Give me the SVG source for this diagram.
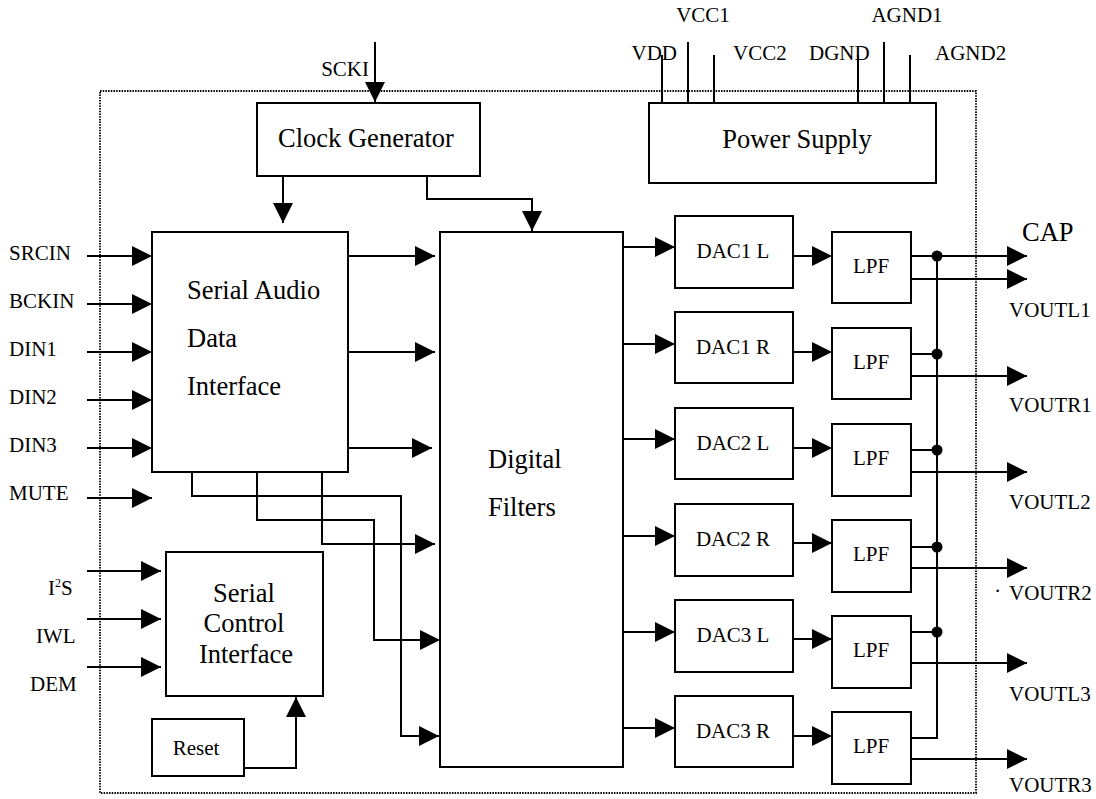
<svg xmlns="http://www.w3.org/2000/svg" width="1096" height="799" viewBox="0 0 1096 799">
<defs>
<marker id="ah" markerUnits="userSpaceOnUse" markerWidth="20" markerHeight="20" refX="20" refY="10" orient="auto" viewBox="0 0 20 20">
<path d="M0,0 L20,10 L0,20 z" fill="#000"/>
</marker>
<style>
.box{fill:#fff;stroke:#000;stroke-width:2}
.w{fill:none;stroke:#000;stroke-width:2}
.a{fill:none;stroke:#000;stroke-width:2;marker-end:url(#ah)}
.big{font-family:"Liberation Serif","Times New Roman",serif;font-size:26.5px;fill:#000}
.sm{font-family:"Liberation Serif","Times New Roman",serif;font-size:21px;fill:#000}
.c{text-anchor:middle}
.dot{fill:#000}
</style>
</defs>
<rect width="1096" height="799" fill="#fff"/>
<rect x="100" y="91" width="876" height="702" fill="none" stroke="#000" stroke-width="1.8" stroke-dasharray="1.5 1.2"/>

<g id="connectors">
<path class="a" d="M375,42 V102"/>
<path class="a" d="M283,176 V223"/>
<path class="a" d="M427,176 V199 H532 V231"/>
<path class="a" d="M87,256 H152"/>
<path class="a" d="M87,304 H152"/>
<path class="a" d="M87,352 H152"/>
<path class="a" d="M87,400 H152"/>
<path class="a" d="M87,448 H152"/>
<path class="a" d="M87,498 H152"/>
<path class="a" d="M348,256 H435"/>
<path class="a" d="M348,352 H435"/>
<path class="a" d="M348,448 H432"/>
<path class="a" d="M192,472 V496 H401 V736 H439"/>
<path class="a" d="M257,472 V520 H374 V640 H440"/>
<path class="a" d="M322,472 V544 H435"/>
<path class="a" d="M87,571 H161"/>
<path class="a" d="M87,619 H161"/>
<path class="a" d="M87,667 H161"/>
<path class="a" d="M244,768 H296 V697"/>
<path class="a" d="M623,247 H675"/>
<path class="a" d="M623,344 H675"/>
<path class="a" d="M623,439 H675"/>
<path class="a" d="M623,536 H675"/>
<path class="a" d="M623,632 H675"/>
<path class="a" d="M623,728 H675"/>
<path class="a" d="M793,256 H832"/>
<path class="a" d="M793,352 H832"/>
<path class="a" d="M793,448 H832"/>
<path class="a" d="M793,543 H832"/>
<path class="a" d="M793,639 H832"/>
<path class="a" d="M793,736 H832"/>
<path class="a" d="M911,256 H1027"/>
<path class="a" d="M911,279 H1027"/>
<path class="a" d="M911,376 H1027"/>
<path class="a" d="M911,472 H1027"/>
<path class="a" d="M911,568 H1027"/>
<path class="a" d="M911,663 H1027"/>
<path class="a" d="M911,759 H1027"/>
<path class="w" d="M911,354 H937 M911,450 H937 M911,547 H937 M911,632 H937 M911,738 H937 V256"/>
<circle class="dot" cx="937" cy="256" r="5.5"/>
<circle class="dot" cx="937" cy="354" r="5.5"/>
<circle class="dot" cx="937" cy="450" r="5.5"/>
<circle class="dot" cx="937" cy="547" r="5.5"/>
<circle class="dot" cx="937" cy="632" r="5.5"/>
<path class="w" d="M662,55 V103 M688,42 V103 M714,55 V103 M858,55 V103 M884,42 V103 M910,55 V103"/>
</g>

<g id="clock">
<rect class="box" x="257" y="103" width="223" height="73"/>
<text class="big c" x="366" y="147">Clock Generator</text>
</g>
<g id="power">
<rect class="box" x="649" y="103" width="287" height="80"/>
<text class="big c" x="797" y="148">Power Supply</text>
</g>
<g id="serial-audio">
<rect class="box" x="152" y="232" width="196" height="240"/>
<text class="big" x="187" y="299">Serial Audio</text>
<text class="big" x="187" y="347">Data</text>
<text class="big" x="187" y="395">Interface</text>
</g>
<g id="digital-filters">
<rect class="box" x="440" y="232" width="183" height="535"/>
<text class="big" x="488" y="468">Digital</text>
<text class="big" x="488" y="516">Filters</text>
</g>
<g id="serial-control">
<rect class="box" x="166" y="552" width="157" height="144"/>
<text class="big c" x="244" y="602">Serial</text>
<text class="big c" x="244" y="632">Control</text>
<text class="big c" x="246" y="663">Interface</text>
</g>
<g id="reset">
<rect class="box" x="152" y="719" width="92" height="57"/>
<text class="sm c" x="196" y="755">Reset</text>
</g>

<g id="dac1l"><rect class="box" x="675" y="216" width="118" height="72"/><text class="sm c" x="733" y="258">DAC1 L</text></g>
<g id="dac1r"><rect class="box" x="675" y="312" width="118" height="71"/><text class="sm c" x="733" y="354">DAC1 R</text></g>
<g id="dac2l"><rect class="box" x="675" y="408" width="118" height="71"/><text class="sm c" x="733" y="450">DAC2 L</text></g>
<g id="dac2r"><rect class="box" x="675" y="504" width="118" height="72"/><text class="sm c" x="733" y="546">DAC2 R</text></g>
<g id="dac3l"><rect class="box" x="675" y="600" width="118" height="72"/><text class="sm c" x="733" y="642">DAC3 L</text></g>
<g id="dac3r"><rect class="box" x="675" y="696" width="118" height="71"/><text class="sm c" x="733" y="738">DAC3 R</text></g>

<g id="lpf1"><rect class="box" x="832" y="232" width="79" height="71"/><text class="sm c" x="871" y="273">LPF</text></g>
<g id="lpf2"><rect class="box" x="832" y="328" width="79" height="71"/><text class="sm c" x="871" y="369">LPF</text></g>
<g id="lpf3"><rect class="box" x="832" y="424" width="79" height="72"/><text class="sm c" x="871" y="465">LPF</text></g>
<g id="lpf4"><rect class="box" x="832" y="520" width="79" height="72"/><text class="sm c" x="871" y="561">LPF</text></g>
<g id="lpf5"><rect class="box" x="832" y="616" width="79" height="72"/><text class="sm c" x="871" y="657">LPF</text></g>
<g id="lpf6"><rect class="box" x="832" y="712" width="79" height="72"/><text class="sm c" x="871" y="753">LPF</text></g>

<g id="labels">
<text class="sm" x="369" y="76" text-anchor="end">SCKI</text>
<text class="sm c" x="703" y="22">VCC1</text>
<text class="sm c" x="907" y="22">AGND1</text>
<text class="sm" x="677" y="60" text-anchor="end">VDD</text>
<text class="sm" x="733" y="60">VCC2</text>
<text class="sm" x="809" y="60">DGND</text>
<text class="sm" x="935" y="60">AGND2</text>
<text class="sm" x="9" y="260">SRCIN</text>
<text class="sm" x="9" y="308">BCKIN</text>
<text class="sm" x="9" y="356">DIN1</text>
<text class="sm" x="9" y="404">DIN2</text>
<text class="sm" x="9" y="452">DIN3</text>
<text class="sm" x="9" y="500">MUTE</text>
<text class="sm" x="48" y="595">I<tspan font-size="12" dy="-8">2</tspan><tspan dy="8">S</tspan></text>
<text class="sm" x="36" y="643">IWL</text>
<text class="sm" x="30" y="691">DEM</text>
<text class="big" x="1022" y="241">CAP</text>
<text class="sm" x="1009" y="317">VOUTL1</text>
<text class="sm" x="1009" y="412">VOUTR1</text>
<text class="sm" x="1009" y="509">VOUTL2</text>
<text class="sm" x="1009" y="600">VOUTR2</text>
<text class="sm" x="1009" y="701">VOUTL3</text>
<text class="sm" x="1009" y="792">VOUTR3</text>
<text class="sm" x="995" y="592" font-size="10">.</text>
</g>
</svg>
